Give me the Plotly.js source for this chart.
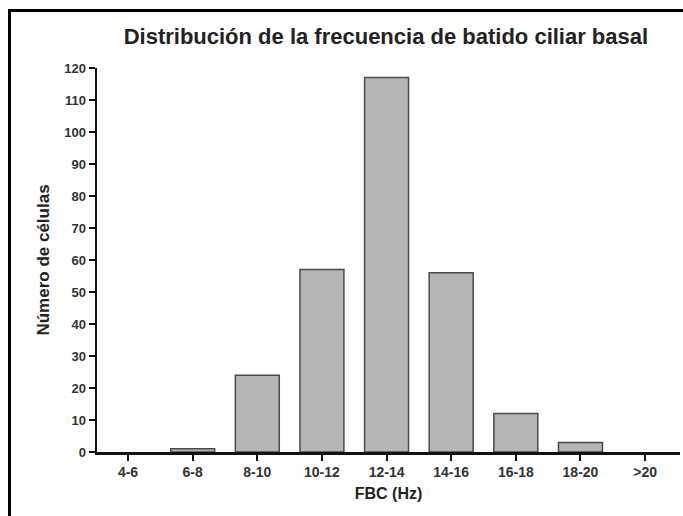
<!DOCTYPE html>
<html>
<head>
<meta charset="utf-8">
<script src="https://cdn.plot.ly/plotly-3.0.1.min.js"></script>
<style>
  html, body { margin: 0; padding: 0; background: #fff; }
  #chart { width: 683px; height: 516px; }
  #frame { position: absolute; left: 8px; top: 9px; width: 700px; height: 600px;
           border-left: 3px solid #000; border-top: 3px solid #000; pointer-events: none; }
</style>
</head>
<body>
<div id="chart"></div>
<div id="frame"></div>
<script>
const categories = ["4-6", "6-8", "8-10", "10-12", "12-14", "14-16", "16-18", "18-20", ">20"];
const cellCounts = [0, 1, 24, 57, 117, 56, 12, 3, 0];
const yTickValues = [0, 10, 20, 30, 40, 50, 60, 70, 80, 90, 100, 110, 120];

const trace = {
  type: "bar",
  x: categories,
  y: cellCounts,
  width: 0.68,
  marker: {
    color: "#b5b5b5",
    line: { color: "#4a4a4a", width: cellCounts.map(v => v > 0 ? 1.5 : 0) }
  },
  hoverinfo: "x+y"
};

const font = "Liberation Sans, Arial, sans-serif";
const layout = {
  width: 683, height: 516,
  margin: { l: 97, r: 3, t: 68, b: 64 },
  paper_bgcolor: "#fff", plot_bgcolor: "#fff",
  showlegend: false,
  title: {
    text: "<b>Distribución de la frecuencia de batido ciliar basal</b>",
    font: { family: font, size: 22, color: "#222" },
    x: 0.565, xanchor: "center", y: 0.93, yanchor: "middle"
  },
  xaxis: {
    type: "category",
    range: [-0.48, 8.54],
    showline: true, linecolor: "#111", linewidth: 2.5,
    ticks: "outside", ticklen: 6, tickwidth: 2, tickcolor: "#111",
    tickfont: { family: font, size: 14, color: "#333", weight: "bold" },
    showgrid: false, zeroline: false,
    title: { text: "<b>FBC (Hz)</b>", font: { family: font, size: 16, color: "#222" }, standoff: 9 }
  },
  yaxis: {
    range: [0, 120],
    tickvals: yTickValues,
    showline: true, linecolor: "#111", linewidth: 2.5,
    ticks: "outside", ticklen: 6, tickwidth: 2, tickcolor: "#111",
    tickfont: { family: font, size: 13, color: "#333", weight: "bold" },
    showgrid: false, zeroline: false,
    title: { text: "<b>Número de células</b>", font: { family: font, size: 17, color: "#222" }, standoff: 10 }
  }
};

Plotly.newPlot("chart", [trace], layout, { displayModeBar: false, staticPlot: true });
</script>
</body>
</html>
